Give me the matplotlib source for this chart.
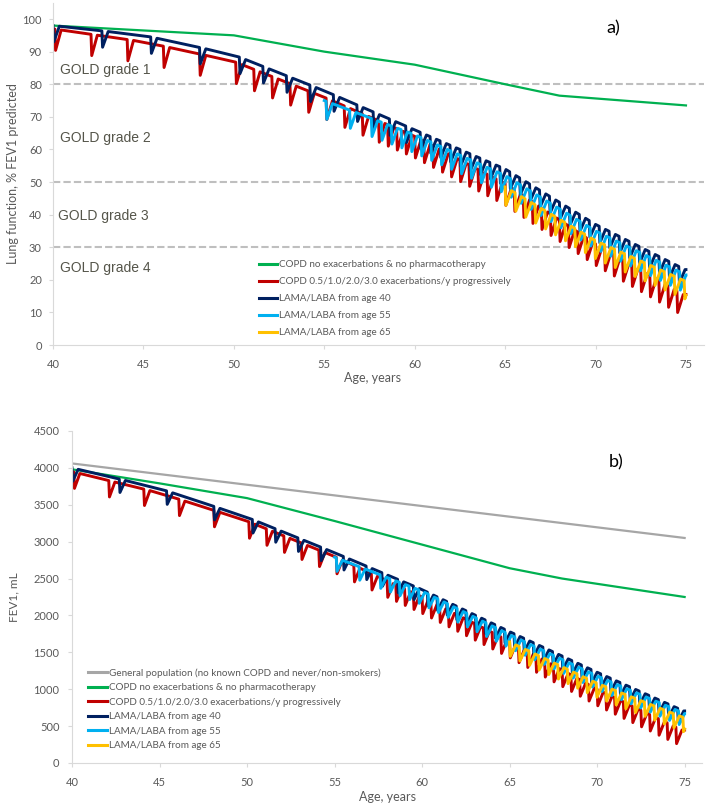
import numpy as np
import matplotlib.pyplot as plt

# Age axis knots (years)
env_ages = [40, 45, 50, 55, 60, 65, 70, 75]
green_ages = [40, 45, 50, 55, 60, 65, 68, 75]
gray_ages = [40, 75]
lb_ages = [55, 60, 65, 70, 75]
yel_ages = [65, 70, 75]

# Panel a) % FEV1 predicted (upper envelope of each curve)
green_pct = [98, 96.5, 95, 90, 86, 80, 76.5, 73.5]
red_pct = [97, 93, 87, 76, 64, 49.5, 31, 15]
navy_pct = [98, 95, 89, 78, 66, 54, 37, 23]
lb_pct = [75, 64.5, 52, 35, 21.5]
yel_pct = [48.5, 32, 19.5]

# Panel b) FEV1 in mL
gray_ml = [4060, 3050]
green_ml = [3980, 3790, 3590, 3280, 2960, 2640, 2500, 2250]
red_ml = [3950, 3660, 3280, 2800, 2250, 1650, 1000, 430]
navy_ml = [4000, 3720, 3330, 2850, 2350, 1780, 1230, 700]
lb_ml = [2790, 2330, 1740, 1180, 670]
yel_ml = [1640, 1080, 610]

# exacerbation timing read from the dips: (first age, until, spacing)
red_events = [(40.1, 49, 2.0), (50.1, 57.5, 1.0), (58.0, 75, 0.5)]
navy_events = [(40.0, 49, 2.7), (50.3, 56, 1.3), (56.8, 60, 0.9), (60.3, 75, 0.55)]
lb_events = [(55.1, 57.5, 1.3), (57.6, 75, 0.55)]
yel_events = [(65.0, 75, 0.55)]

# dip depth of an exacerbation
depth_pct = {"red": 6.5, "navy": 5.0, "lb": 5.5, "yel": 5.5}
depth_ml = {"red": 220, "navy": 180, "lb": 180, "yel": 190}

labels_a = ["COPD no exacerbations & no pharmacotherapy",
            "COPD 0.5/1.0/2.0/3.0 exacerbations/y progressively",
            "LAMA/LABA from age 40", "LAMA/LABA from age 55", "LAMA/LABA from age 65"]
label_gray = "General population (no known COPD and never/non-smokers)"

C_GREEN = "#00B050"
C_RED = "#C00000"
C_NAVY = "#002060"
C_LB = "#00B0F0"
C_YEL = "#FFC000"
C_GRAY = "#A6A6A6"
TXT = "#595959"
REC = 0.35
LW = 2.1


def sawtooth(k_age, k_val, events, depth, end=75):
    ev = np.concatenate([np.arange(a, b, s) for a, b, s in events])
    xs, ys = [k_age[0]], [k_val[0]]
    for t in ev:
        for x, d in ((t, 0), (t + 0.04, depth), (t + REC, 0)):
            xs.append(x)
            ys.append(np.interp(x, k_age, k_val) - d)
    xs, ys = np.array(xs), np.array(ys)
    y_end = np.interp(end, xs, ys)
    keep = xs < end
    return np.append(xs[keep], end), np.append(ys[keep], y_end)


plt.rcParams['font.family'] = ['Lato', 'DejaVu Sans']

fig = plt.figure(figsize=(7.08, 8.08), dpi=100)
ax1 = fig.add_axes([0.0749, 0.5730, 0.9195, 0.4236])
ax2 = fig.add_axes([0.1017, 0.0557, 0.8900, 0.4109])


def style(ax):
    for s in ["top", "right"]:
        ax.spines[s].set_visible(False)
    for s in ["left", "bottom"]:
        ax.spines[s].set_color("#D9D9D9")
        ax.spines[s].set_linewidth(0.8)
    ax.tick_params(colors="#D9D9D9", labelcolor=TXT, labelsize=8, length=3, width=0.8)
    ax.tick_params(axis="x", pad=7)
    ax.tick_params(axis="y", pad=5)
    ax.set_xlim(40, 76)
    ax.set_xticks(np.arange(40, 76, 5))


# ---- panel a ----
style(ax1)
ax1.set_ylim(0, 105)
ax1.set_yticks(np.arange(0, 101, 10))
for g in [80, 50, 30]:
    ax1.axhline(g, color="#BFBFBF", lw=1.5, dashes=(3.5, 1.5), zorder=1)
gold = [("GOLD grade 1", 60, 70), ("GOLD grade 2", 60, 138),
        ("GOLD grade 3", 58, 216), ("GOLD grade 4", 60, 268)]
for txt, px, py in gold:
    fig.text(px / 708, 1 - py / 808, txt, fontsize=10, color="#55554a",
             family="Liberation Sans", va="center")

ax1.plot(green_ages, green_pct, color=C_GREEN, lw=1.6, label=labels_a[0])
x, y = sawtooth(env_ages, red_pct, red_events, depth_pct["red"])
ax1.plot(x, y, color=C_RED, lw=LW, label=labels_a[1])
x, y = sawtooth(env_ages, navy_pct, navy_events, depth_pct["navy"])
ax1.plot(x, y, color=C_NAVY, lw=LW, label=labels_a[2])
x, y = sawtooth(lb_ages, lb_pct, lb_events, depth_pct["lb"])
ax1.plot(x, y, color=C_LB, lw=LW, label=labels_a[3])
x, y = sawtooth(yel_ages, yel_pct, yel_events, depth_pct["yel"])
ax1.plot(x, y, color=C_YEL, lw=LW, label=labels_a[4])

ax1.set_ylabel("Lung function, % FEV1 predicted", fontsize=9, color=TXT)
ax1.yaxis.set_label_coords(-0.052, 0.5)
ax1.set_xlabel("Age, years", fontsize=9, color=TXT)
ax1.xaxis.set_label_coords(0.49, -0.079)
leg = ax1.legend(loc="upper left", bbox_to_anchor=(0.316, 0.247), frameon=False,
                 fontsize=7.1, handlelength=1.9, handletextpad=0.15,
                 labelspacing=0.8, borderpad=0, borderaxespad=0, labelcolor=TXT)
for h in leg.get_lines():
    h.set_linewidth(2.2)

# ---- panel b ----
style(ax2)
ax2.set_ylim(0, 4500)
ax2.set_yticks(np.arange(0, 4501, 500))
ax2.tick_params(axis="y", pad=6)

ax2.plot(gray_ages, gray_ml, color=C_GRAY, lw=1.6, label=label_gray)
ax2.plot(green_ages, green_ml, color=C_GREEN, lw=1.6, label=labels_a[0])
x, y = sawtooth(env_ages, red_ml, red_events, depth_ml["red"])
ax2.plot(x, y, color=C_RED, lw=LW, label=labels_a[1])
x, y = sawtooth(env_ages, navy_ml, navy_events, depth_ml["navy"])
ax2.plot(x, y, color=C_NAVY, lw=LW, label=labels_a[2])
x, y = sawtooth(lb_ages, lb_ml, lb_events, depth_ml["lb"])
ax2.plot(x, y, color=C_LB, lw=LW, label=labels_a[3])
x, y = sawtooth(yel_ages, yel_ml, yel_events, depth_ml["yel"])
ax2.plot(x, y, color=C_YEL, lw=LW, label=labels_a[4])

ax2.set_ylabel("FEV1, mL", fontsize=8.5, color=TXT)
ax2.yaxis.set_label_coords(-0.084, 0.5)
ax2.set_xlabel("Age, years", fontsize=9, color=TXT)
ax2.xaxis.set_label_coords(0.5, -0.084)
leg = ax2.legend(loc="upper left", bbox_to_anchor=(0.026, 0.285), frameon=False,
                 fontsize=7.1, handlelength=1.9, handletextpad=0.15,
                 labelspacing=0.55, borderpad=0, borderaxespad=0, labelcolor=TXT)
for h in leg.get_lines():
    h.set_linewidth(2.2)

fig.text(613 / 708, 1 - 28 / 808, "a)", fontsize=13, ha="center", va="center")
fig.text(616 / 708, 1 - 462 / 808, "b)", fontsize=13, ha="center", va="center")

fig.savefig("out.png", dpi=100)
